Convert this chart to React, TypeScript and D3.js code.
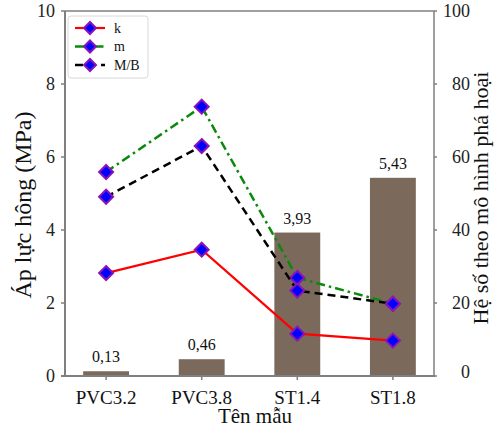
import React from "react";
import * as d3 from "d3";

const categories = ["PVC3.2", "PVC3.8", "ST1.4", "ST1.8"];
const pressure = [0.13, 0.46, 3.93, 5.43];
const pressureLabels = ["0,13", "0,46", "3,93", "5,43"];
const kValues = [28.2, 34.6, 11.6, 9.7];
const mValues = [55.9, 73.8, 26.9, 19.8];
const mbValues = [49.1, 63.0, 23.4, 19.8];
const leftTicks = [0, 2, 4, 6, 8, 10];
const rightTicks = [0, 20, 40, 60, 80, 100];

const seriesList = [
  { name: "k", values: kValues, color: "#ff0000", dash: "", width: 2.2 },
  { name: "m", values: mValues, color: "#0a8a0a", dash: "9,4,2.5,4", width: 2.5 },
  { name: "M/B", values: mbValues, color: "#000000", dash: "8,5", width: 2.5 },
];

export default function App() {
  const W = 499, H = 430;
  const x0 = 65, x1 = 434, yTop = 11, yBot = 376;
  const x = d3.scalePoint<string>().domain(categories).range([x0, x1]).padding(0.43);
  const yL = d3.scaleLinear().domain([0, 10]).range([yBot, yTop]);
  const yR = d3.scaleLinear().domain([0, 100]).range([yBot, yTop]);
  const bw = x.step() * 0.48;
  const axisColor = "#7f7f7f";
  const diamond = (cx: number, cy: number, r: number) =>
    `M${cx},${cy - r}L${cx + r},${cy}L${cx},${cy + r}L${cx - r},${cy}Z`;
  const fs = (n: number) => ({ fontSize: n + "px" });

  return (
    <svg width={W} height={H} className="chart" style={{ position: "absolute", left: 0, top: 0, background: "#fff" }}>
      <style>{`.chart text { font-family: "Liberation Serif", "Times New Roman", Tinos, serif !important; }`}</style>
      {/* bars */}
      {pressure.map((v, i) => (
        <g key={"b" + i}>
          <rect x={x(categories[i])! - bw / 2} y={yL(v)} width={bw} height={yBot - yL(v)} fill="#7b6a5b" />
          <text x={x(categories[i])!} y={yL(v) - 9} textAnchor="middle" style={fs(16)} fill="#111">
            {pressureLabels[i]}
          </text>
        </g>
      ))}
      {/* frame */}
      <line x1={x0} x2={x1} y1={yTop} y2={yTop} stroke={axisColor} strokeWidth={1.5} />
      <line x1={x1} x2={x1} y1={yTop} y2={yBot} stroke={axisColor} strokeWidth={1.5} />
      <line x1={x0} x2={x0} y1={yTop} y2={yBot} stroke={axisColor} strokeWidth={2} />
      <line x1={x0 - 4} x2={x1 + 1} y1={yBot} y2={yBot} stroke={axisColor} strokeWidth={2} />
      {/* left ticks */}
      {leftTicks.map((t) => (
        <g key={"l" + t}>
          <line x1={x0 - 4} x2={x0} y1={yL(t)} y2={yL(t)} stroke={axisColor} strokeWidth={1.5} />
          <text x={55} y={yL(t) + 6} textAnchor="end" style={fs(18)} fill="#222">{t}</text>
        </g>
      ))}
      {/* right ticks */}
      {rightTicks.map((t) => (
        <g key={"r" + t}>
          <line x1={x1} x2={x1 + 3} y1={yR(t)} y2={yR(t)} stroke={axisColor} strokeWidth={1.5} />
          <text x={470} y={yR(t) + (t === 0 ? 2 : 6)} textAnchor="end" style={fs(18)} fill="#222">{t}</text>
        </g>
      ))}
      {/* bottom ticks */}
      {categories.map((c) => (
        <g key={"c" + c}>
          <line x1={x(c)!} x2={x(c)!} y1={yBot} y2={yBot + 4} stroke={axisColor} strokeWidth={1.5} />
          <text x={x(c)!} y={404} textAnchor="middle" style={fs(19)} fill="#111">{c}</text>
        </g>
      ))}
      {/* lines */}
      {seriesList.map((s) => {
        const line = d3.line<number>().x((_, i) => x(categories[i])!).y((v) => yR(v));
        return (
          <g key={s.name}>
            <path d={line(s.values)!} fill="none" stroke={s.color} strokeWidth={s.width} strokeDasharray={s.dash} />
            {s.values.map((v, i) => (
              <path key={i} d={diamond(x(categories[i])!, yR(v), 7)} fill="#0000ff" stroke="#8a14b8" strokeWidth={2} />
            ))}
          </g>
        );
      })}
      {/* legend */}
      <rect x={68} y={16} width={80} height={62} rx={3} fill="#fff" stroke="#d8d8d8" strokeWidth={1} />
      {seriesList.map((s, i) => {
        const ly = 28 + i * 18.5;
        return (
          <g key={"lg" + s.name}>
            <line x1={75} x2={105} y1={ly} y2={ly} stroke={s.color} strokeWidth={s.width} strokeDasharray={s.dash} />
            <path d={diamond(90, ly, 6)} fill="#0000ff" stroke="#8a14b8" strokeWidth={2} />
            <text x={114} y={ly + 4.5} style={fs(14)} fill="#111">{s.name}</text>
          </g>
        );
      })}
      {/* axis titles */}
      <text transform={`translate(31,205) rotate(-90)`} textAnchor="middle" style={fs(24)} fill="#111">
        Áp lực hông (MPa)
      </text>
      <text transform={`translate(488,198) rotate(-90)`} textAnchor="middle" style={fs(22)} fill="#111">
        Hệ số theo mô hình phá hoại
      </text>
      <text x={255} y={423} textAnchor="middle" style={fs(21)} fill="#111">Tên mẫu</text>
    </svg>
  );
}
